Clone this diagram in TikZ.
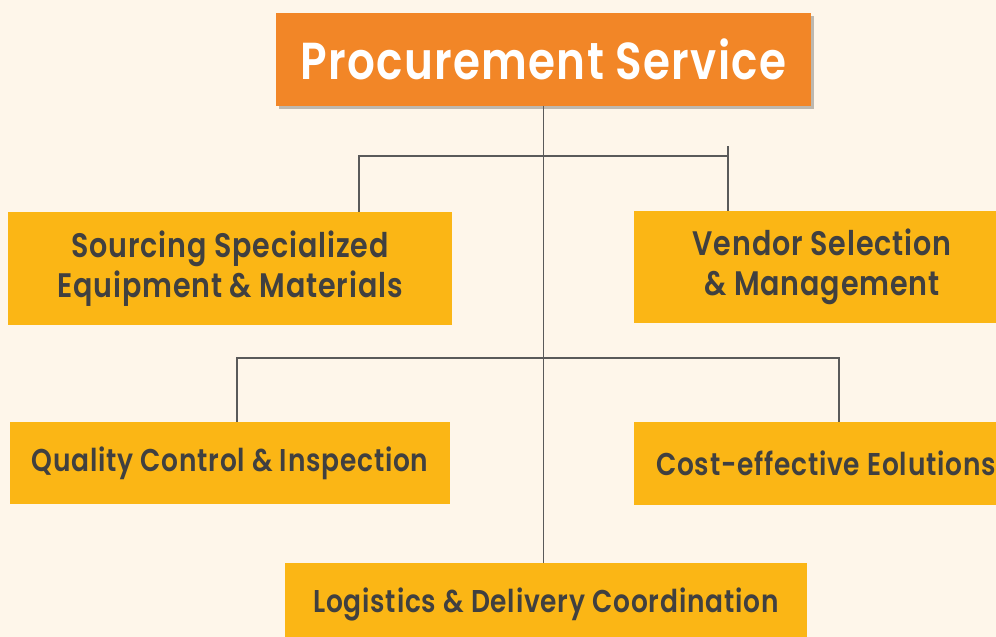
\documentclass[tikz,border=0pt]{standalone}
\usepackage{fontspec}
\setmainfont{Poppins}[FakeStretch=0.84, LetterSpace=2.5, BoldFont={Poppins SemiBold}]
\usepackage{tikz}
\usetikzlibrary{
    shadows,
    positioning,
}
\definecolor{paper}{HTML}{FEF6EA}
\definecolor{headorange}{HTML}{F28627}
\definecolor{taskyellow}{HTML}{FBB615}
\definecolor{taskgray}{HTML}{404040}
\definecolor{linkgray}{HTML}{5A5A5A}
\tikzset{
    procchart/.style={
        x=1pt, y=-1pt,
        every node/.style={inner sep=0pt, align=center},
        service/.style={fill=headorange, text=white, minimum width=535pt, minimum height=93pt,
            font=\fontsize{52}{58}\selectfont\bfseries,
            drop shadow={shadow xshift=3pt, shadow yshift=-3pt, opacity=0.25, fill=black}},
        task/.style={fill=taskyellow, text=taskgray, font=\fontsize{34}{40}\selectfont\bfseries},
        oneline/.style={task, font=\fontsize{31.5}{36}\selectfont\bfseries},
        link/.style={draw=linkgray, line width=1.3pt},
    },
}

\begin{document}
\begin{tikzpicture}[procchart]
    \fill[paper] (0,0) rectangle (996,637);
    \clip (0,0) rectangle (996,637);

    \node[service] (head) at (543.5,59) {Procurement Service};

    \node[task, minimum width=444pt, minimum height=113pt] (sourcing) at (230,268.5) {Sourcing Specialized\\Equipment \& Materials};
    \node[task, minimum width=376pt, minimum height=112pt] (vendor) at (822,267) {Vendor Selection\\ \& Management};
    \node[oneline, minimum width=440pt, minimum height=82pt] (quality) at (230,463) {Quality Control \& Inspection};
    \node[oneline, minimum width=384pt, minimum height=83pt] (cost) at (826,463.5) {Cost-effective Eolutions};
    \node[oneline, minimum width=522pt, minimum height=82pt] (logistics) at (546,604) {Logistics \& Delivery Coordination};

    \coordinate (forkA) at (543.5,156);
    \coordinate (forkB) at (543.5,358);

    % trunk
    \draw[link] (head.south) -- (head.south |- logistics.north);
    % first row
    \draw[link] ([xshift=129pt]sourcing.north) |- (forkA) -| ([xshift=-94pt]vendor.north);
    \draw[link] ([xshift=-94pt]vendor.north) -- ++(0,-65);
    % second row
    \draw[link] ([xshift=7pt]quality.north) |- (forkB) -| ([xshift=13pt]cost.north);
\end{tikzpicture}
\end{document}
